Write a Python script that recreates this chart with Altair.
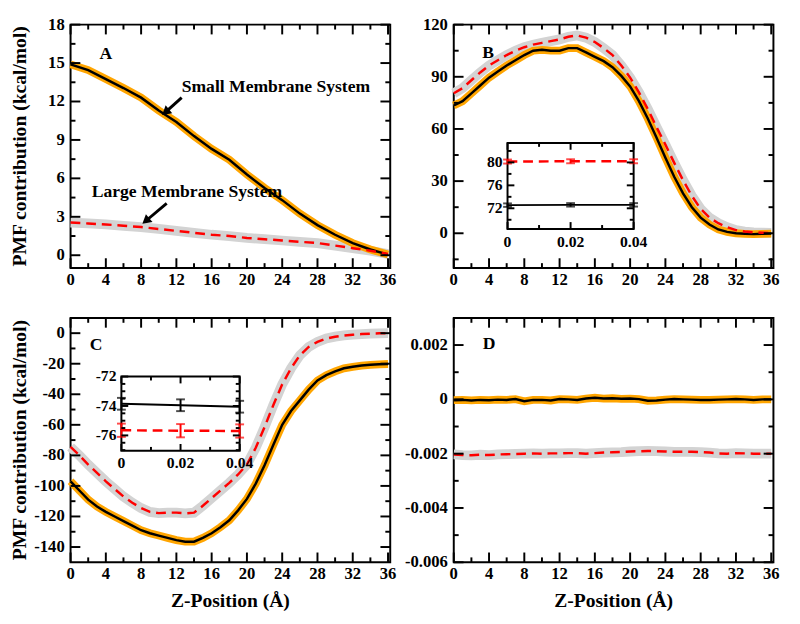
import altair as alt
import pandas as pd

FONT = "Liberation Serif"
W = 327
H_TOP = 249
H_BOT = 250
XMAX = 36.25

ORANGE = "#ffa500"
GREY = "#d3d3d3"
RED = "#ff0000"

# ---------------- data ----------------
Z_A = list(range(0, 37, 2))
A_SMALL = [14.9, 14.45, 13.75, 13.05, 12.3, 11.3, 10.4, 9.3, 8.3, 7.45, 6.3,
           5.25, 4.3, 3.25, 2.35, 1.6, 0.95, 0.45, 0.05]
A_LARGE = [2.55, 2.48, 2.4, 2.3, 2.2, 2.05, 1.9, 1.75, 1.6, 1.5, 1.35, 1.25,
           1.15, 1.05, 0.95, 0.75, 0.55, 0.35, 0.1]

Z_FULL = list(range(0, 37))
B_SMALL = [73.5, 76, 80.5, 85, 89.5, 93, 96.5, 99.5, 102.5, 105, 105.5, 105,
           105, 106.5, 106.5, 104, 101.5, 99, 95.5, 90.5, 84.5, 76, 66, 55,
           43.5, 32.5, 23, 15, 9, 5, 2.2, 0.8, 0, -0.3, -0.5, -0.3, -0.2]
B_LARGE = [80.5, 83.5, 88, 92.5, 96.5, 99.5, 102.5, 105, 107, 108.5, 109.5,
           110.5, 111.5, 113, 113.8, 112.5, 110, 106.5, 102.5, 96.5, 89.5, 81,
           71.5, 61, 51, 40.5, 30.5, 21.5, 14, 9, 5.8, 3.5, 1.8, 1, 0.5, 0.3, 0.2]
C_SMALL = [-97, -103, -109, -113.5, -117, -120, -123, -126, -129, -131, -132.5,
           -134, -135.5, -136.5, -136.5, -134, -131, -127, -122.5, -116, -108.5,
           -98.5, -86.5, -73, -60, -51, -44, -37, -31, -27.5, -25, -23, -22,
           -21.2, -20.7, -20.4, -20.2]
C_LARGE = [-74.5, -80, -86, -91.5, -97, -102, -107, -111, -114.5, -117, -117.8,
           -117.5, -117.5, -118, -117.5, -113, -108, -103, -98, -92.5, -86, -75,
           -61.5, -47, -33.5, -23, -14.5, -9, -5.7, -3.5, -2.3, -1.5, -1, -0.6,
           -0.3, -0.1, 0]
D_SMALL = [-0.00003, -0.00002, -0.00004, -0.00002, -0.00003, -0.00001, -0.00002,
           0.00001, -0.00007, -0.00002, -0.00002, -0.00004, 0.00001, 0.0,
           -0.00002, 0.00003, 0.00006, 0.00003, 0.00004, 0.00002, 0.00003,
           0.00001, -0.00005, -0.00004, -0.00001, 0.00001, 0.0, -0.00001,
           -0.00002, -0.00002, -0.00001, 0.0, 0.00001, 0.0, -0.00002, 0.0, 0.0]
D_LARGE = [-0.00203, -0.00205, -0.00206, -0.00204, -0.00205, -0.00203, -0.00202,
           -0.00201, -0.00200, -0.00199, -0.00200, -0.00199, -0.00199, -0.00198,
           -0.00198, -0.00200, -0.00198, -0.00196, -0.00195, -0.00194, -0.00192,
           -0.00191, -0.00190, -0.00191, -0.00192, -0.00193, -0.00193, -0.00193,
           -0.00194, -0.00196, -0.00199, -0.00200, -0.00198, -0.00199, -0.00200,
           -0.00200, -0.00200]

INSET_X = [0, 0.02, 0.04]
INSET_X_LABELS = ["0", "0.02", "0.04"]
B_IN_SMALL = [72.55, 72.6, 72.6]
B_IN_SMALL_ERR = [0.3, 0.3, 0.3]
B_IN_LARGE = [80.15, 80.2, 80.2]
B_IN_LARGE_ERR = [0.35, 0.35, 0.35]
C_IN_SMALL = [-73.85, -73.95, -74.05]
C_IN_SMALL_ERR = [0.4, 0.4, 0.4]
C_IN_LARGE = [-75.65, -75.68, -75.7]
C_IN_LARGE_ERR = [0.45, 0.45, 0.45]

X_MAJOR = list(range(0, 37, 4))
X_LABELS = [str(v) for v in X_MAJOR]
X_MINOR = list(range(2, 36, 4))

A_YMAJ = [0, 3, 6, 9, 12, 15, 18]
A_YLAB = ["0", "3", "6", "9", "12", "15", "18"]
A_YMIN = [1.5, 4.5, 7.5, 10.5, 13.5, 16.5]
B_YMAJ = [0, 30, 60, 90, 120]
B_YLAB = ["0", "30", "60", "90", "120"]
B_YMIN = [-15, 15, 45, 75, 105]
C_YMAJ = [0, -20, -40, -60, -80, -100, -120, -140]
C_YLAB = ["0", "-20", "-40", "-60", "-80", "-100", "-120", "-140"]
C_YMIN = [-10, -30, -50, -70, -90, -110, -130]
D_YMAJ = [0.002, 0, -0.002, -0.004, -0.006]
D_YLAB = ["0.002", "0", "-0.002", "-0.004", "-0.006"]
D_YMIN = [0.001, -0.001, -0.003, -0.005]

BIN_YMAJ = [72, 76, 80]
BIN_YLAB = ["72", "76", "80"]
BIN_YMIN = [70, 74, 78, 82]
CIN_YMAJ = [-76, -74, -72]
CIN_YLAB = ["-76", "-74", "-72"]
CIN_YMIN = [-72.5, -73, -73.5, -74.5, -75, -75.5, -76.5, -77]

ANNOT_TEXT = ["Small Membrane System", "Large Membrane System"]
ANNOT_X = [12.6, 2.4]
ANNOT_Y = [13.1, 4.95]
ARROW_TAIL_X = [12.6, 10.9]
ARROW_TAIL_Y = [12.3, 4.05]
ARROW_HEAD_X = [10.9, 8.66]
ARROW_HEAD_Y = [11.25, 2.75]

LETTERS = ["A", "B", "C", "D"]
LETTER_X = [4.0, 3.9, 2.9, 4.0]
LETTER_Y = [15.7, 103.4, -7.8, 0.00203]

YTITLE = "PMF contribution (kcal/mol)"
XTITLE = "Z-Position (Å)"

ONE = pd.DataFrame({"a": [0]})


def tick_layers(vals, ch, scale, box, length, width=2):
    x0, x1, y0, y1 = box
    d = pd.DataFrame({"v": vals})
    base = alt.Chart(d).mark_rule(color="black", strokeWidth=width)
    if ch == "x":
        f = alt.X("v:Q", scale=scale, axis=None)
        return [base.encode(x=f, y=alt.value(y1), y2=alt.value(y1 - length)),
                base.encode(x=f, y=alt.value(y0), y2=alt.value(y0 + length))]
    f = alt.Y("v:Q", scale=scale, axis=None)
    return [base.encode(y=f, x=alt.value(x0), x2=alt.value(x0 + length)),
            base.encode(y=f, x=alt.value(x1), x2=alt.value(x1 - length))]


def xlabels(vals, labels, scale, ypix, size):
    d = pd.DataFrame({"v": vals, "t": labels})
    return alt.Chart(d).mark_text(
        font=FONT, fontSize=size, fontWeight="bold", color="black",
        align="center", baseline="top").encode(
        x=alt.X("v:Q", scale=scale, axis=None), y=alt.value(ypix), text="t:N")


def ylabels(vals, labels, scale, xpix, size):
    d = pd.DataFrame({"v": vals, "t": labels})
    return alt.Chart(d).mark_text(
        font=FONT, fontSize=size, fontWeight="bold", color="black",
        align="right", baseline="middle").encode(
        y=alt.Y("v:Q", scale=scale, axis=None), x=alt.value(xpix), text="t:N")


def make_inset(box, ydom, ymaj, ylab, ymin, small, serr, large, lerr):
    x0, x1, y0, y1 = box
    xs = alt.Scale(domain=[0, 0.04], range=[x0, x1], nice=False, zero=False)
    ys = alt.Scale(domain=ydom, range=[y1, y0], nice=False, zero=False)
    df = pd.DataFrame({"x": INSET_X, "small": small, "se": serr,
                       "large": large, "le": lerr})
    frame = alt.Chart(ONE).mark_rect(
        fill="white", stroke="black", strokeWidth=2).encode(
        x=alt.value(x0), x2=alt.value(x1), y=alt.value(y0), y2=alt.value(y1))
    base = alt.Chart(df)
    xf = alt.X("x:Q", scale=xs, axis=None)
    layers = [frame,
              base.mark_line(color="black", strokeWidth=2).encode(
                  x=xf, y=alt.Y("small:Q", scale=ys, axis=None)),
              base.mark_line(color=RED, strokeWidth=2.5, strokeDash=[10, 6]).encode(
                  x=xf, y=alt.Y("large:Q", scale=ys, axis=None))]
    for val, err, col in (("small", "se", "black"), ("large", "le", RED)):
        eb = base.transform_calculate(lo=f"datum.{val} - datum.{err}",
                                      hi=f"datum.{val} + datum.{err}")
        layers.append(eb.mark_rule(color=col, strokeWidth=2).encode(
            x=xf, y=alt.Y("lo:Q", scale=ys, axis=None), y2=alt.Y2("hi:Q")))
        for k in ("lo", "hi"):
            layers.append(eb.mark_tick(color=col, orient="horizontal", size=9,
                                       thickness=2).encode(
                x=xf, y=alt.Y(f"{k}:Q", scale=ys, axis=None)))
    layers += tick_layers(INSET_X, "x", xs, box, 7)
    layers += tick_layers([0.01, 0.03], "x", xs, box, 4)
    layers += tick_layers(ymaj, "y", ys, box, 7)
    layers += tick_layers(ymin, "y", ys, box, 4)
    layers.append(xlabels(INSET_X, INSET_X_LABELS, xs, y1 + 5, 16))
    layers.append(ylabels(ymaj, ylab, ys, x0 - 5, 16))
    return alt.layer(*layers)


def make_panel(idx, z, small, large, ydom, ymaj, ylab, ymin, H,
               xtitle=False, ytitle=False, annot=False, inset=None):
    xs = alt.Scale(domain=[0, XMAX], nice=False, zero=False)
    ys = alt.Scale(domain=ydom, nice=False, zero=False)
    df = pd.DataFrame({"z": z, "small": small, "large": large})
    base = alt.Chart(df)
    xf = alt.X("z:Q", scale=xs, axis=None)
    layers = [
        base.mark_line(color=GREY, strokeWidth=10).encode(
            x=xf, y=alt.Y("large:Q", scale=ys, axis=None)),
        base.mark_line(color=ORANGE, strokeWidth=8).encode(
            x=xf, y=alt.Y("small:Q", scale=ys, axis=None)),
        base.mark_line(color="black", strokeWidth=2.5).encode(
            x=xf, y=alt.Y("small:Q", scale=ys, axis=None)),
        base.mark_line(color=RED, strokeWidth=2.5, strokeDash=[10, 6]).encode(
            x=xf, y=alt.Y("large:Q", scale=ys, axis=None)),
    ]
    box = (0, W, 0, H)
    layers += tick_layers(X_MAJOR, "x", xs, box, 10)
    layers += tick_layers(X_MINOR, "x", xs, box, 5)
    layers += tick_layers(ymaj, "y", ys, box, 10)
    layers += tick_layers(ymin, "y", ys, box, 5)
    layers.append(xlabels(X_MAJOR, X_LABELS, xs, H + 4, 17))
    layers.append(ylabels(ymaj, ylab, ys, -6, 17))
    ld = pd.DataFrame({"x": [LETTER_X[idx]], "y": [LETTER_Y[idx]],
                       "t": [LETTERS[idx]]})
    layers.append(alt.Chart(ld).mark_text(
        font=FONT, fontSize=18, fontWeight="bold", color="black").encode(
        x=alt.X("x:Q", scale=xs, axis=None),
        y=alt.Y("y:Q", scale=ys, axis=None), text="t:N"))
    if ytitle:
        layers.append(alt.Chart(pd.DataFrame({"t": [YTITLE]})).mark_text(
            font=FONT, fontSize=20, fontWeight="bold", color="black",
            angle=270, align="center", baseline="middle").encode(
            x=alt.value(-52), y=alt.value(H / 2), text="t:N"))
    if xtitle:
        layers.append(alt.Chart(pd.DataFrame({"t": [XTITLE]})).mark_text(
            font=FONT, fontSize=20, fontWeight="bold", color="black",
            align="center", baseline="middle").encode(
            x=alt.value(W / 2), y=alt.value(H + 40), text="t:N"))
    if annot:
        ad = pd.DataFrame({"t": ANNOT_TEXT, "x": ANNOT_X, "y": ANNOT_Y})
        layers.append(alt.Chart(ad).mark_text(
            font=FONT, fontSize=18, fontWeight="bold", color="black",
            align="left", baseline="middle").encode(
            x=alt.X("x:Q", scale=xs, axis=None),
            y=alt.Y("y:Q", scale=ys, axis=None), text="t:N"))
        ar = pd.DataFrame({"tx": ARROW_TAIL_X, "ty": ARROW_TAIL_Y,
                           "hx": ARROW_HEAD_X, "hy": ARROW_HEAD_Y})
        layers.append(alt.Chart(ar).mark_rule(color="black", strokeWidth=3).encode(
            x=alt.X("tx:Q", scale=xs, axis=None), x2="hx:Q",
            y=alt.Y("ty:Q", scale=ys, axis=None), y2="hy:Q"))
        layers.append(alt.Chart(ar).mark_point(
            shape="triangle", filled=True, size=110, angle=230, color="black",
            opacity=1).encode(
            x=alt.X("hx:Q", scale=xs, axis=None),
            y=alt.Y("hy:Q", scale=ys, axis=None)))
    main = alt.layer(*layers)
    if inset is not None:
        chart = alt.layer(main, inset).resolve_scale(x="independent",
                                                      y="independent")
    else:
        chart = main
    return chart.properties(width=W, height=H)


pA = make_panel(0, Z_A, A_SMALL, A_LARGE, [-1, 18], A_YMAJ, A_YLAB, A_YMIN,
                H_TOP, ytitle=True, annot=True)

insB = make_inset((55, 184, 121, 209), [68.4, 83.4], BIN_YMAJ, BIN_YLAB,
                  BIN_YMIN, B_IN_SMALL, B_IN_SMALL_ERR, B_IN_LARGE,
                  B_IN_LARGE_ERR)
pB = make_panel(1, Z_FULL, B_SMALL, B_LARGE, [-20, 120], B_YMAJ, B_YLAB,
                B_YMIN, H_TOP, inset=insB)

insC = make_inset((52, 173, 60, 136), [-77.05, -72], CIN_YMAJ, CIN_YLAB,
                  CIN_YMIN, C_IN_SMALL, C_IN_SMALL_ERR, C_IN_LARGE,
                  C_IN_LARGE_ERR)
pC = make_panel(2, Z_FULL, C_SMALL, C_LARGE, [-150, 10], C_YMAJ, C_YLAB,
                C_YMIN, H_BOT, xtitle=True, ytitle=True, inset=insC)

pD = make_panel(3, Z_FULL, D_SMALL, D_LARGE, [-0.006, 0.003], D_YMAJ, D_YLAB,
                D_YMIN, H_BOT, xtitle=True)

chart = alt.concat(pA, pB, pC, pD, columns=2,
                   spacing={"row": 51, "column": 65}, bounds="flush").properties(
    padding=0, background="white"
).configure_view(
    stroke="black", strokeWidth=2
)

chart.save("out.html", embed_options={"renderer": "svg", "actions": False})
